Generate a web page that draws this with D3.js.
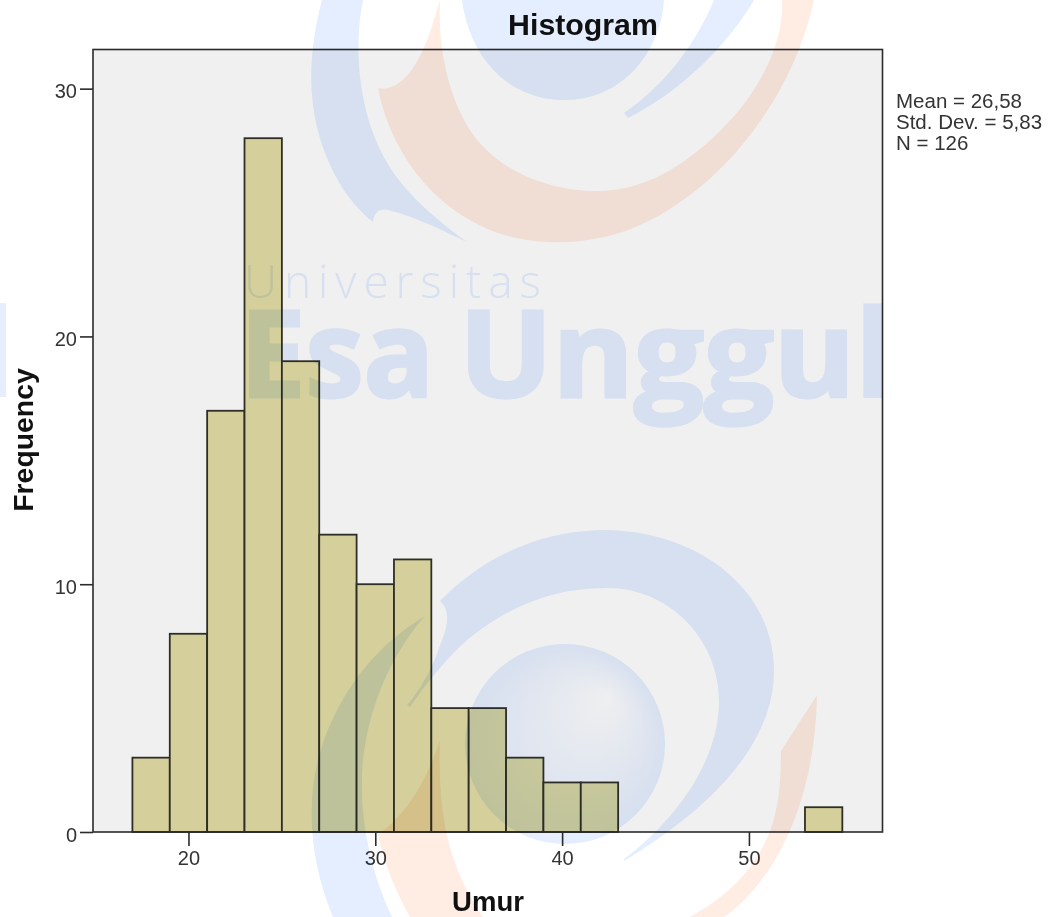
<!DOCTYPE html>
<html>
<head>
<meta charset="utf-8">
<script src="https://cdn.jsdelivr.net/npm/d3@7"></script>
<style>
  html, body { margin: 0; padding: 0; background: #fff; }
  svg { display: block; filter: blur(0.45px); }
  text { font-family: "Liberation Sans", Arial, sans-serif; }
  .tick text { font-size: 20px; fill: #333; }
  .tick line, .domain { stroke: #2b2b2b; stroke-width: 1.6; }
  .axis-label { font-size: 27.5px; font-weight: bold; fill: #111; }
  #watermark { mix-blend-mode: multiply; }
</style>
</head>
<body>
<div id="wrapper"></div>
<script>
// data
const binStarts = [17, 19, 21, 23, 25, 27, 29, 31, 33, 35, 37, 39, 41, 53]
const counts = [3, 8, 17, 28, 19, 12, 10, 11, 5, 5, 3, 2, 2, 1]
const binWidth = 2
const xTicks = [20, 30, 40, 50]
const yTicks = [0, 10, 20, 30]
const statLines = ["Mean = 26,58", "Std. Dev. = 5,83", "N = 126"]

async function drawChart() {
  const dataset = binStarts.map((d, i) => ({start: d, count: counts[i]}))

  const dimensions = {
    width: 1048,
    height: 917,
    margin: {top: 49.5, right: 165.5, bottom: 85, left: 93}
  }
  dimensions.boundedWidth = dimensions.width
    - dimensions.margin.left
    - dimensions.margin.right
  dimensions.boundedHeight = dimensions.height
    - dimensions.margin.top
    - dimensions.margin.bottom

  const wrapper = d3.select("#wrapper")
    .append("svg")
      .attr("width", dimensions.width)
      .attr("height", dimensions.height)

  const bounds = wrapper.append("g")
    .attr("transform", `translate(${dimensions.margin.left}, ${dimensions.margin.top})`)

  // scales
  const xScale = d3.scaleLinear()
    .domain([14.89, 57.15])
    .range([0, dimensions.boundedWidth])
  const yScale = d3.scaleLinear()
    .domain([0, 31.58])
    .range([dimensions.boundedHeight, 0])

  // plot background
  bounds.append("rect")
    .attr("width", dimensions.boundedWidth)
    .attr("height", dimensions.boundedHeight)
    .attr("fill", "#f0f0f0")

  // bars
  bounds.selectAll(".bar")
    .data(dataset)
    .enter().append("rect")
      .attr("class", "bar")
      .attr("x", d => xScale(d.start))
      .attr("y", d => yScale(d.count))
      .attr("width", d => xScale(d.start + binWidth) - xScale(d.start))
      .attr("height", d => yScale(0) - yScale(d.count))
      .attr("fill", "#d5d09b")
      .attr("stroke", "#2e2e26")
      .attr("stroke-width", 1.8)

  // plot frame
  bounds.append("rect")
    .attr("width", dimensions.boundedWidth)
    .attr("height", dimensions.boundedHeight)
    .attr("fill", "none")
    .attr("stroke", "#2b2b2b")
    .attr("stroke-width", 1.6)

  // axes
  const xAxis = bounds.append("g")
    .attr("transform", `translate(0, ${dimensions.boundedHeight})`)
    .call(d3.axisBottom(xScale).tickValues(xTicks).tickSize(14).tickSizeOuter(0).tickPadding(5))
  xAxis.select(".domain").remove()

  const yAxis = bounds.append("g")
    .call(d3.axisLeft(yScale).tickValues(yTicks).tickSize(13).tickSizeOuter(0).tickPadding(3))
  yAxis.select(".domain").remove()
  yAxis.selectAll(".tick text").attr("dy", "0.45em")

  // labels
  wrapper.append("text")
    .attr("x", 583)
    .attr("y", 35)
    .attr("text-anchor", "middle")
    .style("font-size", "30.3px")
    .style("font-weight", "bold")
    .attr("fill", "#111")
    .text("Histogram")

  wrapper.append("text")
    .attr("class", "axis-label")
    .attr("transform", "translate(33, 440) rotate(-90)")
    .attr("text-anchor", "middle")
    .style("font-size", "28.4px")
    .text("Frequency")

  wrapper.append("text")
    .attr("class", "axis-label")
    .attr("x", 488)
    .attr("y", 911)
    .attr("text-anchor", "middle")
    .text("Umur")

  wrapper.selectAll(".stat")
    .data(statLines)
    .enter().append("text")
      .attr("class", "stat")
      .attr("x", 896)
      .attr("y", (d, i) => 108 + i * 21.2)
      .style("font-size", "20.5px")
      .attr("fill", "#333")
      .text(d => d)

  // background watermark, multiplied over the whole chart
  const blue = "#e4eeff"
  const pink = "#ffece3"
  const defs = wrapper.append("defs")
  defs.append("clipPath").attr("id", "wm-clip")
    .append("rect").attr("width", 883).attr("height", 917)

  const sphere = defs.append("radialGradient")
    .attr("id", "sphere")
    .attr("gradientUnits", "userSpaceOnUse")
    .attr("cx", 565).attr("cy", 744).attr("r", 100)
    .attr("fx", 608).attr("fy", 697)
  sphere.append("stop").attr("offset", "0%").attr("stop-color", "#fefeff")
  sphere.append("stop").attr("offset", "100%").attr("stop-color", blue)

  const watermark = wrapper.append("g").attr("id", "watermark")

  const bluePaths = [
    "M322,0 C306,60 306,120 335,175 C345,195 360,212 373,222 C374,212 380,208 388,210 C415,216 445,232 467,242 C430,215 395,185 378,145 C358,100 354,45 363,0 Z",
    "M462,0 C470,60 510,100 565,100 C620,100 660,55 664,0 Z",
    "M714,0 C695,45 665,85 624,113 L628,118 C675,95 725,50 754,0 Z",
    "M333,917 C305,850 305,780 330,725 C352,675 385,640 425,616 C395,650 370,700 363,760 C358,815 370,870 392,917 Z",
    "M407,705 C420,690 432,670 440,645 C449,625 450,610 440,601 C490,550 550,530 607,530 C700,532 774,590 774,671 C774,750 700,815 624,861 L624,859 C670,825 719,765 719,701 C719,640 670,588 607,588 C555,588 510,605 467,640 C445,660 425,685 410,707 Z"
  ]
  watermark.selectAll(".wm-blue")
    .data(bluePaths)
    .enter().append("path")
      .attr("class", "wm-blue")
      .attr("d", d => d)
      .attr("fill", blue)

  const pinkPaths = [
    "M440,0 C430,35 418,70 400,82 C392,88 384,90 378,88 C390,150 430,205 490,230 C530,246 590,248 640,225 C710,195 790,110 814,0 L782,0 C784,30 770,75 735,115 C695,160 650,190 600,191 C550,192 495,170 470,130 C445,90 438,40 440,0 Z",
    "M440,740 C425,785 405,815 378,835 C385,865 395,890 410,917 L483,917 C455,875 437,830 440,740 Z",
    "M817,695 L781,751 C781,800 775,830 755,860 C735,890 710,905 690,917 L724,917 C770,885 815,810 817,695 Z"
  ]
  watermark.selectAll(".wm-pink")
    .data(pinkPaths)
    .enter().append("path")
      .attr("class", "wm-pink")
      .attr("d", d => d)
      .attr("fill", pink)

  watermark.append("circle")
    .attr("cx", 565)
    .attr("cy", 744)
    .attr("r", 100)
    .attr("fill", "url(#sphere)")

  watermark.append("text")
    .attr("x", 244)
    .attr("y", 298)
    .attr("textLength", 297)
    .style("font-family", "'Open Sans', sans-serif")
    .style("font-size", "46px")
    .style("font-weight", 300)
    .attr("fill", blue)
    .text("Universitas")

  // big name, split so the word gap matches
  const nameParts = [
    {text: "Esa", x: 240, length: 194},
    {text: "Unggul", x: 459, length: 434}
  ]
  watermark.append("g")
    .attr("clip-path", "url(#wm-clip)")
    .selectAll("text")
    .data(nameParts)
    .enter().append("text")
      .attr("x", d => d.x)
      .attr("y", 397)
      .attr("textLength", d => d.length)
      .attr("lengthAdjust", "spacingAndGlyphs")
      .style("font-family", "'Open Sans', sans-serif")
      .style("font-size", "120px")
      .style("font-weight", 700)
      .attr("fill", blue)
      .attr("stroke", blue)
      .attr("stroke-width", 3)
      .text(d => d.text)

  // end of the next watermark tile, at the left edge
  watermark.append("rect")
    .attr("x", 0)
    .attr("y", 303)
    .attr("width", 6)
    .attr("height", 94)
    .attr("fill", blue)
}

drawChart()
</script>
</body>
</html>
